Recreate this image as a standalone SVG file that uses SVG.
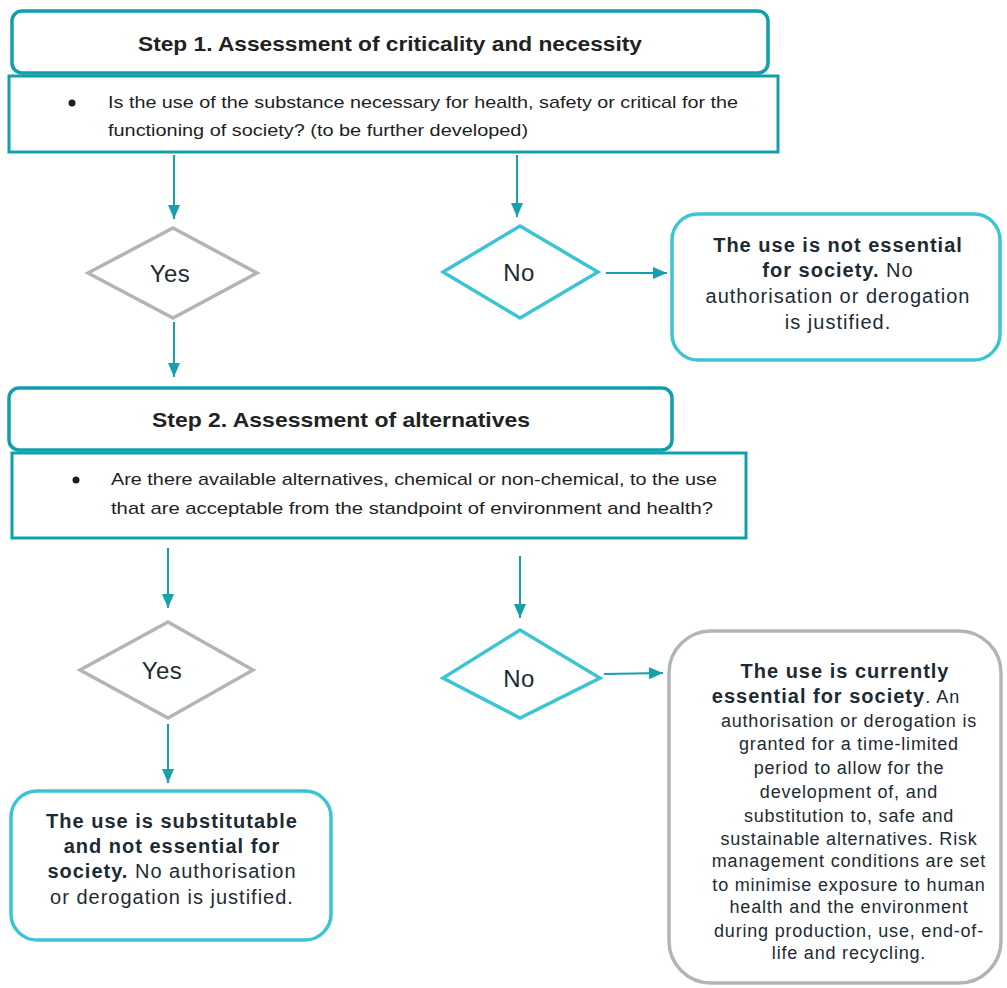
<svg xmlns="http://www.w3.org/2000/svg" width="1007" height="988" viewBox="0 0 1007 988">
<defs>
<marker id="ah" viewBox="0 0 14 12" refX="14" refY="6" markerWidth="14" markerHeight="12" markerUnits="userSpaceOnUse" orient="auto">
<path d="M0,0 L14,6 L0,12 Z" fill="#16a0ab"/>
</marker>
<style>
.hdr{fill:#fff;stroke:#10a0ac;stroke-width:3.5}
.q{fill:#fff;stroke:#10a0ac;stroke-width:3}
.dy{fill:#fff;stroke:#b2b5b8;stroke-width:3.5}
.dn{fill:#fff;stroke:#3dc4d4;stroke-width:3.5}
.bc{fill:#fff;stroke:#3dc4d4;stroke-width:3.5}
.bg{fill:#fff;stroke:#b2b5b8;stroke-width:3.5}
.ttl{font-family:"Liberation Sans",Arial,sans-serif;font-size:21px;font-weight:bold;fill:#222;text-anchor:middle}
.qt{font-family:"Liberation Sans",Arial,sans-serif;font-size:17px;fill:#1e1e1e}
.dl{font-family:"Liberation Sans",Arial,sans-serif;font-size:24px;fill:#1e2a33;text-anchor:middle;letter-spacing:0.5px}
.bt{font-family:"Liberation Sans",Arial,sans-serif;font-size:20px;fill:#1e2a33;text-anchor:middle;letter-spacing:1px}
.st{font-family:"Liberation Sans",Arial,sans-serif;font-size:18px;fill:#1e2a33;text-anchor:middle;letter-spacing:0.8px}
.b{font-weight:bold}
.c{fill:none;stroke:#16a0ab;stroke-width:2;marker-end:url(#ah)}
</style>
</defs>
<rect width="1007" height="988" fill="#fff"/>

<g id="step1-header">
<rect class="hdr" x="12" y="11" width="756" height="62" rx="10"/>
<text class="ttl" x="390" y="51" textLength="504" lengthAdjust="spacingAndGlyphs">Step 1. Assessment of criticality and necessity</text>
</g>
<g id="step1-question">
<rect class="q" x="9" y="76" width="769" height="76"/>
<circle cx="72" cy="103" r="3.5" fill="#1e1e1e"/>
<text class="qt" x="108" y="108" textLength="630" lengthAdjust="spacingAndGlyphs">Is the use of the substance necessary for health, safety or critical for the</text>
<text class="qt" x="108" y="136" textLength="420" lengthAdjust="spacingAndGlyphs">functioning of society? (to be further developed)</text>
</g>
<g id="yes1">
<polygon class="dy" points="173,228 257,273 173,318 88,273"/>
<text class="dl" x="170" y="282">Yes</text>
</g>
<g id="no1">
<polygon class="dn" points="520,226 598,272 520,318 443,272"/>
<text class="dl" x="519" y="281">No</text>
</g>
<g id="not-essential">
<rect class="bc" x="672" y="214" width="328" height="146" rx="26"/>
<text class="bt" x="838" y="252"><tspan class="b">The use is not essential</tspan></text>
<text class="bt" x="838" y="277"><tspan class="b">for society.</tspan> No</text>
<text class="bt" x="838" y="303">authorisation or derogation</text>
<text class="bt" x="838" y="329">is justified.</text>
</g>

<g id="step2-header">
<rect class="hdr" x="9" y="388" width="663" height="62" rx="10"/>
<text class="ttl" x="341" y="427" textLength="378" lengthAdjust="spacingAndGlyphs">Step 2. Assessment of alternatives</text>
</g>
<g id="step2-question">
<rect class="q" x="12" y="453" width="734" height="85"/>
<circle cx="76" cy="480" r="3.5" fill="#1e1e1e"/>
<text class="qt" x="111" y="485" textLength="606" lengthAdjust="spacingAndGlyphs">Are there available alternatives, chemical or non-chemical, to the use</text>
<text class="qt" x="111" y="514" textLength="602" lengthAdjust="spacingAndGlyphs">that are acceptable from the standpoint of environment and health?</text>
</g>
<g id="yes2">
<polygon class="dy" points="168,622 253,670 168,718 80,670"/>
<text class="dl" x="162" y="679">Yes</text>
</g>
<g id="no2">
<polygon class="dn" points="520,630 600,678 520,718 443,678"/>
<text class="dl" x="519" y="687">No</text>
</g>
<g id="substitutable">
<rect class="bc" x="11" y="791" width="320" height="149" rx="26"/>
<text class="bt" x="172" y="828"><tspan class="b">The use is substitutable</tspan></text>
<text class="bt" x="172" y="853"><tspan class="b">and not essential for</tspan></text>
<text class="bt" x="172" y="878"><tspan class="b">society.</tspan> No authorisation</text>
<text class="bt" x="172" y="904">or derogation is justified.</text>
</g>
<g id="currently-essential">
<rect class="bg" x="669" y="631" width="332" height="352" rx="42"/>
<text class="bt" x="845" y="678"><tspan class="b">The use is currently</tspan></text>
<text class="bt" x="836" y="703"><tspan class="b">essential for society</tspan><tspan font-size="18">. An</tspan></text>
<text class="st" x="849" y="727">authorisation or derogation is</text>
<text class="st" x="849" y="750">granted for a time-limited</text>
<text class="st" x="849" y="774">period to allow for the</text>
<text class="st" x="849" y="798">development of, and</text>
<text class="st" x="849" y="822">substitution to, safe and</text>
<text class="st" x="849" y="845">sustainable alternatives. Risk</text>
<text class="st" x="849" y="867">management conditions are set</text>
<text class="st" x="849" y="891">to minimise exposure to human</text>
<text class="st" x="849" y="913">health and the environment</text>
<text class="st" x="849" y="937">during production, use, end-of-</text>
<text class="st" x="849" y="959">life and recycling.</text>
</g>

<g id="connectors">
<line class="c" x1="174" y1="155" x2="174" y2="219"/>
<line class="c" x1="517" y1="155" x2="517" y2="217"/>
<line class="c" x1="174" y1="322" x2="174" y2="377"/>
<line class="c" x1="606" y1="273" x2="667" y2="273"/>
<line class="c" x1="168" y1="548" x2="168" y2="608"/>
<line class="c" x1="520" y1="556" x2="520" y2="618"/>
<line class="c" x1="168" y1="724" x2="168" y2="783"/>
<line class="c" x1="604" y1="674" x2="663" y2="673"/>
</g>
</svg>
